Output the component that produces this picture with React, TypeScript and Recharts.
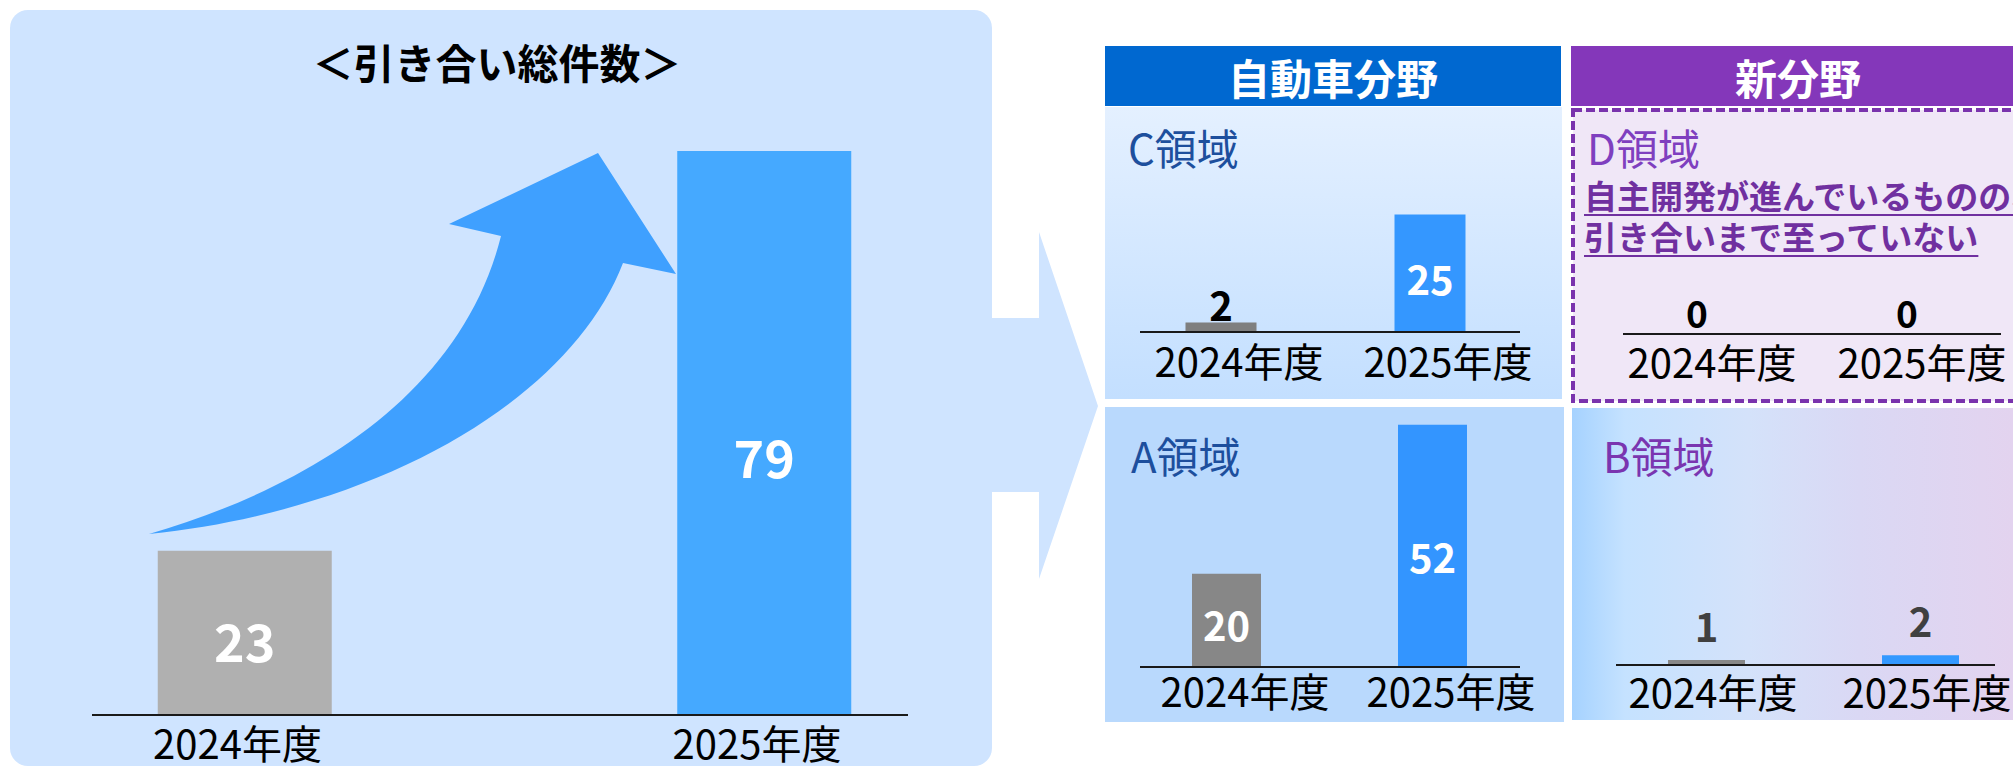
import React from 'react';
import { BarChart, Bar, XAxis, YAxis, Cell, LabelList } from 'recharts';

const years = ['2024年度', '2025年度'];
const totalInquiries = [23, 79];
const autoAreaC = [2, 25];
const autoAreaA = [20, 52];
const newAreaD = [0, 0];
const newAreaB = [1, 2];

const FONT = "'Noto Sans CJK JP', 'Noto Sans', sans-serif";
const SIDE = 90; // room beside the axis line so tick labels are not clipped

type YearBarsProps = {
  values: number[];
  colors: string[];
  left: number;
  top: number;
  width: number;
  height: number;
  baseline: number;
  centers: [number, number];
  barSize: number;
  pxPerUnit: number;
  tickFont?: number;
  tickDx?: number;
  tickMargin?: number;
  labelFont?: number;
  labelGap?: number;
  labelColor?: string;
  insideMin?: number;
  minPointSize?: number;
};

const YearBars: React.FC<YearBarsProps> = (p) => {
  const data = years.map((year, i) => ({ year, value: p.values[i] }));
  const plotH = p.baseline - p.top;
  const band = p.centers[1] - p.centers[0];
  // bars sit wider apart than the axis line, so the band range runs past the plot edges
  const padLeft = p.centers[0] - band / 2 - p.left;
  const padRight = p.left + p.width - (p.centers[1] + band / 2);
  const labelFont = p.labelFont ?? 40;
  const insideMin = p.insideMin ?? 50;

  const renderLabel = (props: any) => {
    const vb = props.viewBox ?? {};
    const x = props.x ?? vb.x;
    const y = props.y ?? vb.y;
    const w = props.width ?? vb.width;
    const h = props.height ?? vb.height ?? 0;
    const inside = h >= insideMin;
    return (
      <text
        x={x + w / 2}
        y={inside ? y + h * 0.54 : y - (p.labelGap ?? 20)}
        textAnchor="middle"
        dominantBaseline="central"
        fill={inside ? '#ffffff' : p.labelColor ?? '#000'}
        fontSize={labelFont}
        fontWeight="bold"
        fontFamily={FONT}
      >
        {props.value}
      </text>
    );
  };

  return (
    <div style={{ position: 'absolute', left: p.left - SIDE, top: p.top }}>
      <BarChart
        width={p.width + SIDE * 2}
        height={p.height}
        data={data}
        margin={{ top: 0, right: SIDE, bottom: 0, left: SIDE }}
      >
        <XAxis
          dataKey="year"
          height={p.height - plotH}
          padding={{ left: padLeft, right: padRight }}
          axisLine={{ stroke: '#1a1a1a', strokeWidth: 2 }}
          tickLine={false}
          tickSize={0}
          tickMargin={p.tickMargin ?? 16}
          interval={0}
          tick={{ fill: '#000', fontSize: p.tickFont ?? 40, fontFamily: FONT, dx: p.tickDx ?? 0 }}
        />
        <YAxis hide domain={[0, plotH / p.pxPerUnit]} />
        <Bar dataKey="value" barSize={p.barSize} minPointSize={p.minPointSize ?? 0} isAnimationActive={false}>
          {data.map((d, i) => (
            <Cell key={d.year} fill={p.colors[i]} />
          ))}
          <LabelList dataKey="value" content={renderLabel} />
        </Bar>
      </BarChart>
    </div>
  );
};

const abs = (left: number, top: number, extra: React.CSSProperties = {}): React.CSSProperties => ({
  position: 'absolute',
  left,
  top,
  fontFamily: FONT,
  whiteSpace: 'nowrap',
  ...extra,
});

export default function App() {
  const areaLabel = (color: string): React.CSSProperties => ({ fontSize: 42, lineHeight: '42px', color });
  const headerStyle: React.CSSProperties = {
    height: 60,
    display: 'flex',
    alignItems: 'center',
    justifyContent: 'center',
    fontSize: 42,
    fontWeight: 'bold',
    color: '#fff',
  };
  const noteStyle: React.CSSProperties = {
    fontSize: 33,
    lineHeight: '41px',
    fontWeight: 'bold',
    color: '#7030a0',
    textDecoration: 'underline',
    textDecorationThickness: '2px',
    textUnderlineOffset: '5px',
  };

  return (
    <div style={{ position: 'absolute', left: 0, top: 0, width: 2013, height: 767, overflow: 'hidden', background: '#fff' }}>
      <svg width={2013} height={767} style={{ position: 'absolute', left: 0, top: 0 }}>
        <defs>
          <linearGradient id="gradC" x1="0" y1="0" x2="0" y2="1">
            <stop offset="0%" stopColor="#e4f0ff" />
            <stop offset="100%" stopColor="#c3dfff" />
          </linearGradient>
          <linearGradient id="gradB" x1="0" y1="0" x2="1" y2="0">
            <stop offset="0%" stopColor="#a5d2ff" />
            <stop offset="12%" stopColor="#c5e2ff" />
            <stop offset="40%" stopColor="#d4e2fa" />
            <stop offset="65%" stopColor="#dad8f4" />
            <stop offset="100%" stopColor="#e3d3ef" />
          </linearGradient>
        </defs>
        {/* left panel and the chevron pointing right */}
        <rect x={10} y={10} width={982} height={756} rx={18} fill="#cfe4ff" />
        <polygon points="990,318 1039,318 1039,232 1098,406 1039,579 1039,492 990,492" fill="#cfe4ff" />
        {/* growth arrow */}
        <path
          d="M149,534 C380,510 570,400 623,263 L676,274 L598,153 L449,224 L501,236 C460,400 300,490 149,534 Z"
          fill="#3fa0ff"
        />
        {/* right grid */}
        <rect x={1105} y={46} width={456} height={60} fill="#0068d0" />
        <rect x={1571} y={46} width={460} height={60} fill="#8437ba" />
        <rect x={1105} y={107} width={457} height={292} fill="url(#gradC)" />
        <rect x={1573} y={110} width={460} height={291} fill="#f0e7f7" stroke="#7a33ad" strokeWidth={4} strokeDasharray="9 4" />
        <rect x={1105} y={407} width={459} height={315} fill="#b9d9fd" />
        <rect x={1572} y={408} width={441} height={312} fill="url(#gradB)" />
      </svg>

      <div style={abs(0, 40, { width: 994, textAlign: 'center', fontSize: 41, lineHeight: '42px', fontWeight: 'bold', color: '#000' })}>
        ＜引き合い総件数＞
      </div>

      <YearBars
        values={totalInquiries}
        colors={['#b0b0b0', '#45a9ff']}
        left={92}
        top={100}
        width={816}
        height={667}
        baseline={715}
        centers={[244.5, 764]}
        barSize={174}
        pxPerUnit={7.14}
        tickFont={40}
        tickDx={-7}
        tickMargin={16}
        labelFont={52}
      />

      <div style={abs(1105, 46, { ...headerStyle, width: 456 })}>自動車分野</div>
      <div style={abs(1573, 46, { ...headerStyle, width: 450 })}>新分野</div>

      <div style={abs(1128, 126, areaLabel('#1d4f9d'))}>C領域</div>
      <div style={abs(1587, 126, areaLabel('#7f3fbf'))}>D領域</div>
      <div style={abs(1131, 434, areaLabel('#1d4f9d'))}>A領域</div>
      <div style={abs(1603, 434, areaLabel('#7a35b0'))}>B領域</div>

      <div style={abs(1584, 175, noteStyle)}>
        自主開発が進んでいるものの、
        <br />
        引き合いまで至っていない
      </div>

      <YearBars
        values={autoAreaC}
        colors={['#7f7f7f', '#3497ff']}
        left={1140}
        top={120}
        width={380}
        height={280}
        baseline={332}
        centers={[1221, 1430]}
        barSize={71}
        pxPerUnit={4.7}
        tickDx={18}
        tickMargin={17}
        labelGap={19}
        labelColor="#000"
      />
      <YearBars
        values={newAreaD}
        colors={['#7f7f7f', '#3497ff']}
        left={1623}
        top={120}
        width={378}
        height={280}
        baseline={334}
        centers={[1697, 1907]}
        barSize={72}
        pxPerUnit={4.7}
        tickDx={15}
        tickMargin={16}
        labelFont={37}
        labelGap={22}
        labelColor="#000"
        minPointSize={0.4}
      />
      <YearBars
        values={autoAreaA}
        colors={['#878787', '#3395ff']}
        left={1140}
        top={420}
        width={380}
        height={300}
        baseline={667}
        centers={[1226, 1432]}
        barSize={69}
        pxPerUnit={4.66}
        tickDx={19}
        tickMargin={12}
        labelGap={20}
        labelColor="#000"
      />
      <YearBars
        values={newAreaB}
        colors={['#888888', '#3399ff']}
        left={1616}
        top={420}
        width={379}
        height={300}
        baseline={665}
        centers={[1706, 1920]}
        barSize={77}
        pxPerUnit={4.9}
        tickDx={7}
        tickMargin={15}
        labelGap={35}
        labelColor="#404040"
      />
    </div>
  );
}
